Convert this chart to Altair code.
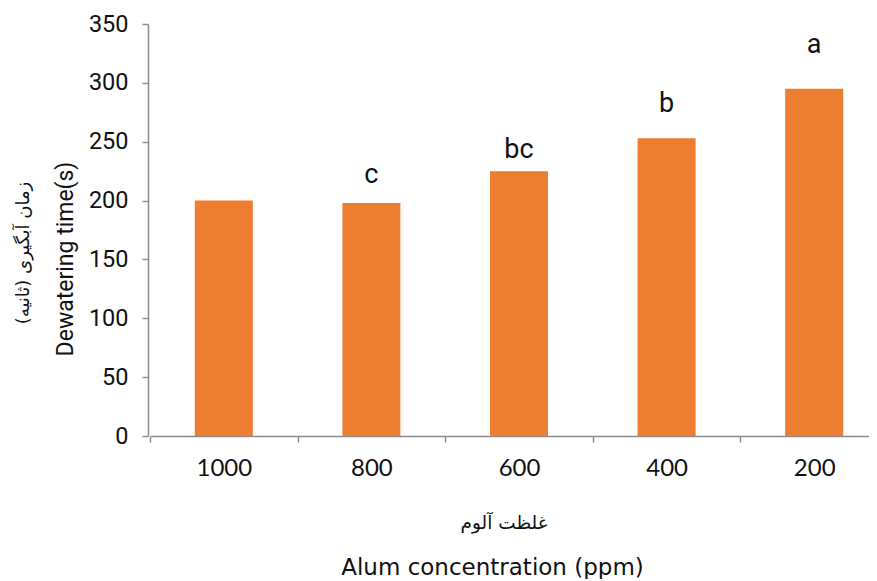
import altair as alt
import pandas as pd

concentrations = ["1000", "800", "600", "400", "200"]
dewatering_time = [200, 198, 225, 253, 295]
letters = ["", "c", "bc", "b", "a"]
letter_level = [0, 215, 236, 275, 325]

df = pd.DataFrame({
    "conc": concentrations,
    "time": dewatering_time,
    "letter": letters,
    "level": letter_level,
})

W, H = 721, 412

x_enc = alt.X(
    "conc:N", sort=concentrations,
    scale=alt.Scale(paddingInner=0, paddingOuter=0, range=[2, 740]),
    axis=alt.Axis(
        title="Alum concentration (ppm)", labelAngle=0, tickBand="extent",
        labelFont="Lato", labelFontSize=24, labelColor="#111111", labelPadding=14,
        tickSize=6, tickColor="#8c8c8c", tickWidth=1.5,
        domainColor="#8c8c8c", domainWidth=1.5,
        titleFont="DejaVu Sans", titleFontSize=23, titleFontWeight="normal", titleColor="#111111",
        titleX=344, titleY=138, titleBaseline="alphabetic", titleAlign="center", titleAnchor="start",
    ),
)

bars = alt.Chart(df).mark_bar(size=58, color="#ED7D31").encode(
    x=x_enc,
    y=alt.Y(
        "time:Q", scale=alt.Scale(domain=[0, 350]),
        axis=alt.Axis(
            title=None, values=list(range(0, 351, 50)), grid=False,
            labelFont="Roboto", labelFontSize=23.5, labelColor="#111111", labelPadding=14,
            tickSize=6, tickColor="#8c8c8c", tickWidth=1.5,
            domainColor="#8c8c8c", domainWidth=1.5,
        ),
    ),
)

labels = alt.Chart(df).mark_text(
    font="Roboto", fontSize=27, color="#111111", baseline="alphabetic", align="center"
).encode(
    x=alt.X("conc:N", sort=concentrations),
    y=alt.Y("level:Q"),
    text="letter:N",
)

en_y = alt.Chart(pd.DataFrame({"t": ["Dewatering time(s)"]})).mark_text(
    font="Roboto", fontSize=23, angle=270, color="#111111", baseline="middle", align="center"
).encode(x=alt.value(-82), y=alt.value(235), text="t:N")

fa_y = alt.Chart(pd.DataFrame({"t": ["زمان آبگیری (ثانیه)"]})).mark_text(
    font="DejaVu Sans", fontSize=18, angle=270, color="#111111", baseline="middle", align="center"
).encode(x=alt.value(-124), y=alt.value(229), text="t:N")

fa_x = alt.Chart(pd.DataFrame({"t": ["غلظت آلوم"]})).mark_text(
    font="DejaVu Sans", fontSize=18.5, color="#111111", baseline="middle", align="center"
).encode(x=alt.value(356), y=alt.value(499), text="t:N")

chart = alt.layer(bars, labels, en_y, fa_y, fa_x).properties(
    width=W, height=H,
    autosize=alt.AutoSizeParams(type="none"),
    padding={"left": 140, "top": 16, "right": 0, "bottom": 143},
).configure_view(stroke=None)

chart.save("out.html", embed_options={"renderer": "svg", "actions": False})
